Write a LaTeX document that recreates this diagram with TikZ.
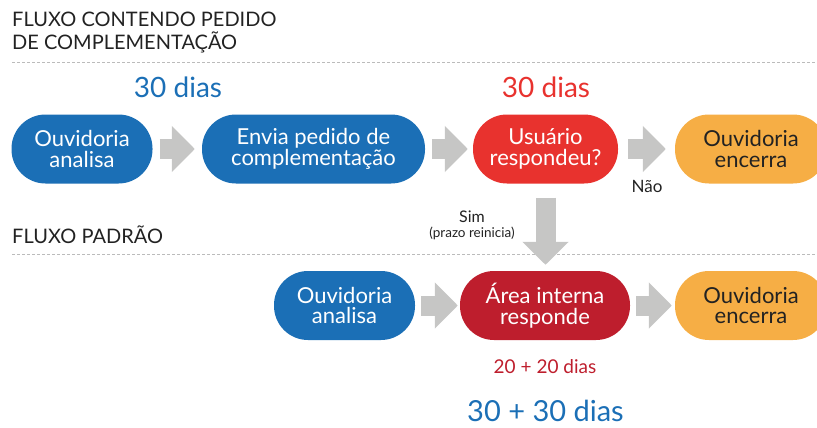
\documentclass[tikz,border=0pt]{standalone}
\usepackage{fontspec}
\setmainfont{Lato}
\usetikzlibrary{arrows.meta,calc}
\definecolor{cblue}{HTML}{1B6FB6}
\definecolor{cred}{HTML}{E8322E}
\definecolor{cdred}{HTML}{BE1E2D}
\definecolor{corange}{HTML}{F6AE45}
\definecolor{cgray}{HTML}{C6C6C5}
\definecolor{ctext}{HTML}{222222}
\definecolor{cdash}{HTML}{BBBBBB}
\tikzset{
  pill/.style={rectangle, rounded corners=34pt, minimum height=69pt, inner sep=0pt,
    align=center, font=\fontsize{22}{20.5}\selectfont, text=white},
  bluepill/.style={pill, fill=cblue},
  redpill/.style={pill, fill=cred},
  dredpill/.style={pill, fill=cdred},
  orangepill/.style={pill, fill=corange, text=ctext},
  blockarrow/.style={draw=cgray, line width=20pt,
    -{Triangle[width=45pt,length=23pt]}, color=cgray},
  title/.style={anchor=base west, inner sep=0pt, text=ctext, font=\fontsize{20}{23}\selectfont, align=left},
  sep/.style={draw=cdash, line width=0.8pt, dash pattern=on 3pt off 2pt},
  small/.style={inner sep=0pt, text=ctext},
}
\begin{document}
\begin{tikzpicture}[x=1pt,y=-1pt]
\useasboundingbox (0,0) rectangle (817,428);
% titles
\node[title] (t1) at (12,50) {FLUXO CONTENDO PEDIDO\\DE COMPLEMENTAÇÃO};
\coordinate (d1a) at (12,62);
\coordinate (d1b) at (817,62);
\draw[sep] (d1a) -- (d1b);
\node[title] (t2) at (12,243) {FLUXO PADRÃO};
\coordinate (d2a) at (12,254);
\coordinate (d2b) at (817,254);
\draw[sep] (d2a) -- (d2b);
% row 1
\node[bluepill, minimum width=141pt] (a1) at (82,149) {Ouvidoria\\analisa};
\node[bluepill, minimum width=223pt] (a2) at (313.5,149) {Envia pedido de\\complementação};
\node[redpill, minimum width=145pt] (a3) at (545.5,149) {Usuário\\respondeu?};
\node[orangepill, minimum width=152pt] (a4) at (751,149) {Ouvidoria\\encerra};
\node[inner sep=0pt, text=cblue, font=\fontsize{28}{28}\selectfont, anchor=base] (d30a) at (178,97) {30 dias};
\node[inner sep=0pt, text=cred, font=\fontsize{28}{28}\selectfont, anchor=base] (d30b) at (546,97) {30 dias};
\draw[blockarrow] ([xshift=7pt]a1.east) -- ([xshift=-7pt]a2.west);
\draw[blockarrow] ([xshift=7pt]a2.east) -- ([xshift=-5pt]a3.west);
\draw[blockarrow] ([xshift=10pt]a3.east) -- ([xshift=-9pt]a4.west);
\node[small, font=\fontsize{17}{17}\selectfont, anchor=base] (nao) at (647,192) {Não};
% row 2
\node[bluepill, minimum width=141pt] (b1) at (344.5,305.5) {Ouvidoria\\analisa};
\node[dredpill, minimum width=170pt] (b2) at (545,305.5) {Área interna\\responde};
\node[orangepill, minimum width=152pt] (b3) at (751,305.5) {Ouvidoria\\encerra};
\draw[blockarrow] ([xshift=6pt]b1.east) -- ([xshift=-2pt]b2.west);
\draw[blockarrow] ([xshift=6pt]b2.east) -- ([xshift=-3pt]b3.west);
% down arrow
\draw[blockarrow] ([yshift=-14pt]a3.south) -- ($(a3.south |- b2.north)+(0,6pt)$);
\node[small, font=\fontsize{16}{16}\selectfont, anchor=base] (sim) at (472,222) {Sim};
\node[small, font=\fontsize{13.5}{13.5}\selectfont, anchor=base] (prazo) at (472,237) {(prazo reinicia)};
% totals
\node[inner sep=0pt, text=cdred, font=\fontsize{19}{19}\selectfont, anchor=base] (t20) at (545,373) {20 + 20 dias};
\node[inner sep=0pt, text=cblue, font=\fontsize{29}{29}\selectfont, anchor=base] (t30) at (545.5,421) {30 + 30 dias};
\end{tikzpicture}
\end{document}
